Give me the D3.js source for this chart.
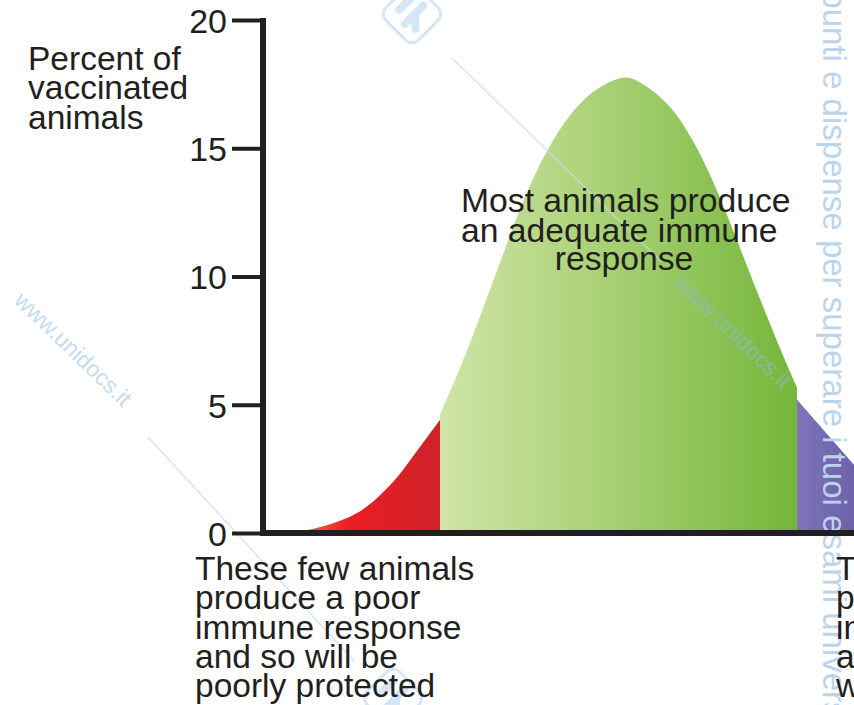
<!DOCTYPE html>
<html>
<head>
<meta charset="utf-8">
<script src="https://cdn.jsdelivr.net/npm/d3@7"></script>
<style>
  html, body { margin: 0; padding: 0; background: #fff; }
  svg { display: block; }
  text { font-family: "Liberation Sans", Arial, sans-serif; fill: #231f20; }
</style>
</head>
<body>
<div id="chart"></div>
<script>
// curve: [response position (0-100), percent of animals]
const poorResponse = [[4.6, 0], [10, 0.25], [16.4, 0.85], [22, 2.0], [26, 3.2], [29.9, 4.42]];
const adequateResponse = [[29.9, 4.62], [33.3, 6.45], [36.1, 8.1], [39.5, 10.2], [43.9, 12.9], [48, 14.9],
  [51.9, 16.3], [56.4, 17.3], [61.3, 17.76], [64.5, 17.45], [68.8, 16.6], [72.6, 15.3], [76, 13.7],
  [79.4, 11.8], [82.8, 9.8], [86.8, 7.5], [90.2, 5.67]];
const strongResponse = [[90.2, 5.2], [94.9, 3.96], [100, 2.62]];

const yTicks = [0, 5, 10, 15, 20];
const yTitle = ["Percent of", "vaccinated", "animals"];
const midLabel = ["Most animals produce", "an adequate immune", "response"];
const poorLabel = ["These few animals", "produce a poor", "immune response", "and so will be", "poorly protected"];
const strongLabel = ["These few animals", "produce a strong", "intense immune", "and so will be", "well protected"];

const width = 854, height = 705;
const ink = "#231f20";

const svg = d3.select("#chart").append("svg")
  .attr("width", width)
  .attr("height", height);

const x = d3.scaleLinear().domain([0, 100]).range([263, 855]);
const y = d3.scaleLinear().domain([0, 20]).range([533, 20]);

// gradients for the three parts of the curve
const defs = svg.append("defs");
function addGradient(id, x1, x2, stops) {
  const g = defs.append("linearGradient")
    .attr("id", id)
    .attr("gradientUnits", "userSpaceOnUse")
    .attr("x1", x1).attr("x2", x2).attr("y1", 0).attr("y2", 0);
  stops.forEach(s => g.append("stop").attr("offset", s[0]).attr("stop-color", s[1]));
}
addGradient("redGrad", x(4.6), x(29.9), [[0, "#f37a3a"], [0.4, "#ec1c24"], [1, "#cf2229"]]);
addGradient("greenGrad", x(29.9), x(90.2), [[0, "#d0e4a7"], [0.5, "#a5cf71"], [1, "#74b63a"]]);
addGradient("purpleGrad", x(90.2), x(100), [[0, "#7d74b8"], [1, "#6d61ab"]]);

const area = d3.area()
  .x(d => x(d[0]))
  .y0(y(0))
  .y1(d => y(d[1]))
  .curve(d3.curveCatmullRom.alpha(0.5));

svg.append("path").datum(poorResponse).attr("d", area).attr("fill", "url(#redGrad)");
svg.append("path").datum(adequateResponse).attr("d", area).attr("fill", "url(#greenGrad)");
svg.append("path").datum(strongResponse).attr("d", area).attr("fill", "url(#purpleGrad)");

// watermark bits (faint)
const wm = svg.append("g").attr("class", "watermark");
wm.append("line").attr("x1", 452).attr("y1", 58).attr("x2", 662).attr("y2", 262)
  .attr("stroke", "#c9ddf0").attr("stroke-width", 1.3).attr("opacity", 0.8);
wm.append("line").attr("x1", 148).attr("y1", 437).attr("x2", 355).attr("y2", 662)
  .attr("stroke", "#c9ddf0").attr("stroke-width", 1.3).attr("opacity", 0.8);
wm.append("text").attr("transform", "translate(13,302) rotate(44)")
  .style("font-size", "23px").style("fill", "#c6dbef").text("www.unidocs.it");
wm.append("text").attr("transform", "translate(673,284) rotate(44)")
  .style("font-size", "23px").style("fill", "#8fbbd8").attr("opacity", 0.55).text("www.unidocs.it");
wm.append("text").attr("transform", "translate(823,-50) rotate(90)")
  .style("font-size", "33px").style("fill", "#bcd4ea")
  .text("Appunti e dispense per superare i tuoi esami universitari");

function logo(cx, cy) {
  const g = wm.append("g").attr("transform", "translate(" + cx + "," + cy + ") rotate(45)");
  g.append("rect").attr("x", -23).attr("y", -23).attr("width", 46).attr("height", 46).attr("rx", 9)
    .attr("fill", "none").attr("stroke", "#d6e6f4").attr("stroke-width", 3);
  g.append("line").attr("x1", -12).attr("y1", -12).attr("x2", -12).attr("y2", 6)
    .attr("stroke", "#d6e6f4").attr("stroke-width", 8).attr("stroke-linecap", "round");
  g.append("line").attr("x1", 2).attr("y1", -14).attr("x2", 2).attr("y2", 12)
    .attr("stroke", "#d6e6f4").attr("stroke-width", 8).attr("stroke-linecap", "round");
  g.append("line").attr("x1", 2).attr("y1", -2).attr("x2", 13).attr("y2", 8)
    .attr("stroke", "#d6e6f4").attr("stroke-width", 8).attr("stroke-linecap", "round");
}
logo(412, 14);
logo(393, 698);

// axes
const yAxis = svg.append("g")
  .attr("transform", "translate(263,0)")
  .call(d3.axisLeft(y).tickValues(yTicks).tickSize(31).tickPadding(5));
yAxis.select(".domain").remove();
yAxis.selectAll(".tick line").attr("stroke", ink).attr("stroke-width", 4);
yAxis.selectAll(".tick text")
  .style("font-family", "'Liberation Sans', Arial, sans-serif")
  .style("font-size", "34px").attr("fill", ink).attr("dy", "0.36em");

svg.append("line")
  .attr("x1", 263).attr("x2", 263).attr("y1", y(20) - 2).attr("y2", y(0) + 3)
  .attr("stroke", ink).attr("stroke-width", 6);
svg.append("line")
  .attr("x1", 260).attr("x2", width).attr("y1", y(0)).attr("y2", y(0))
  .attr("stroke", ink).attr("stroke-width", 6);

// labels
function block(lines, x0, y0, anchor, size) {
  svg.append("g").selectAll("text")
    .data(lines)
    .join("text")
    .attr("x", x0)
    .attr("y", (d, i) => y0 + i * 29.3)
    .attr("text-anchor", anchor)
    .style("font-size", size + "px")
    .text(d => d);
}
block(yTitle, 28, 70, "start", 33.5);
block(poorLabel, 195, 580, "start", 33.5);
block(strongLabel, 836, 580, "start", 33.5);

svg.append("text").attr("x", 461).attr("y", 212).style("font-size", "33.7px").text(midLabel[0]);
svg.append("text").attr("x", 461).attr("y", 242).style("font-size", "33.7px").text(midLabel[1]);
svg.append("text").attr("x", 624).attr("y", 270).attr("text-anchor", "middle").style("font-size", "33.7px").text(midLabel[2]);
</script>
</body>
</html>
